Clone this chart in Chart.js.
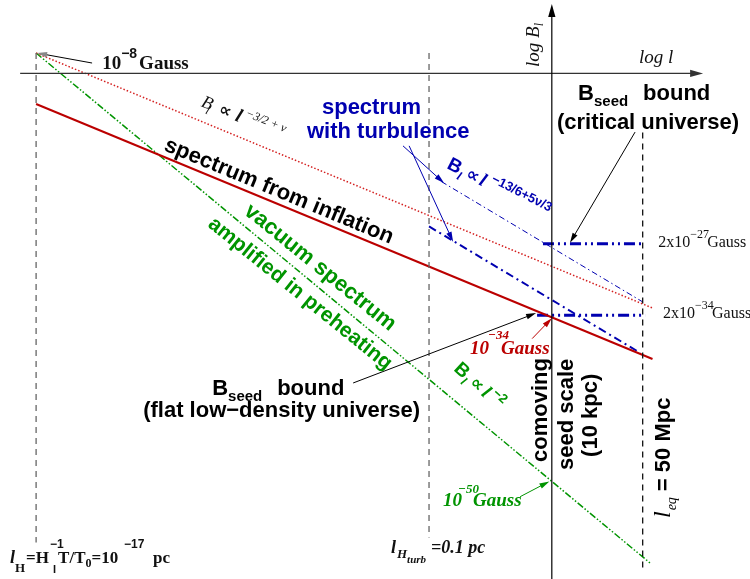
<!DOCTYPE html>
<html>
<head>
<meta charset="utf-8">
<script src="https://cdn.jsdelivr.net/npm/chart.js@4"></script>
<style>
  html, body { margin: 0; padding: 0; background: #fff; }
  #wrap { width: 750px; height: 579px; }
</style>
</head>
<body>
<div id="wrap"><canvas id="chart" width="750" height="579"></canvas></div>
<script>
// ===== Data (x = log10 l / pc, y = log10 B / Gauss) =====
const viewL = [-18.47, 12.07];
const viewB = [-59.57, -2.8];

// marked scales
const scaleL = [-17, -1, 4, 7.7];          // l_H, l_Hturb, seed scale (10 kpc), l_eq (50 Mpc)
const scaleLTop = [-8, -8, -59.6, -15.8];
const scaleLBottom = [-56, -55.5, -3.2, -58.5];

// spectra
const inflSlopeL = [-17, 8.1];   const inflSlopeB = [-8, -33];     // B ~ l^(-3/2+nu)
const inflationL = [-17, 8.1];   const inflationB = [-13, -38];    // spectrum from inflation
const vacuumL = [-17, 8];        const vacuumB = [-8, -58];        // vacuum, preheating, l^-2
const turbUpperL = [-0.5, 7.7];  const turbUpperB = [-20.6, -32.4];
const turbLowerL = [-1, 7.6];    const turbLowerB = [-25, -37.4];

// seed bounds
const critBoundL = [3.64, 7.7];  const critBoundB = [-26.7, -26.7]; // 2x10^-27 G
const flatBoundL = [3.4, 7.8];   const flatBoundB = [-33.7, -33.7]; // 2x10^-34 G

const axisB = -10; // horizontal log l axis

const SANS = '"Liberation Sans", Arial, sans-serif';
const SERIF = '"Liberation Serif", "Times New Roman", serif';
const RED = '#bb0000', GREEN = '#009400', BLUE = '#0000b0';

const pts = (xs, ys) => xs.map((x, i) => ({ x: x, y: ys[i] }));
const line = (xs, ys, color, width, dash) => ({
    data: pts(xs, ys), showLine: true, pointRadius: 0, borderColor: color,
    borderWidth: width, borderDash: dash || [], fill: false, tension: 0
});

// guide dashed verticals
const guides = scaleL.map((l, i) => {
    if (i === 2) return null; // seed scale is the B axis
    return line([l, l], [scaleLTop[i], scaleLBottom[i]], i === 3 ? '#111' : '#666', 1.3, [6, 5]);
}).filter(Boolean);

const datasets = [
    ...guides,
    line(inflSlopeL, inflSlopeB, '#d42020', 1.5, [1.5, 2]),
    line(inflationL, inflationB, RED, 2, []),
    line(vacuumL, vacuumB, GREEN, 1.5, [7, 2, 1.5, 2, 1.5, 2]),
    line(turbUpperL, turbUpperB, BLUE, 1, [6, 3, 1.5, 3]),
    line(turbLowerL, turbLowerB, BLUE, 2, [8, 4, 2, 4]),
    line(critBoundL, critBoundB, BLUE, 3, [11, 4, 2, 4, 2, 4]),
    line(flatBoundL, flatBoundB, BLUE, 3, [11, 4, 2, 4, 2, 4])
];

// ===== Annotations =====
const arrows = [
    { from: [-17.65, axisB], to: [10.16, axisB], color: '#333', w: 1.2, head: 13 },
    { from: [4, -59.6], to: [4, -3.2], color: '#000', w: 1.2, head: 13 },
    { from: [-14.72, -8.98], to: [-16.96, -8], color: '#000', w: 1, head: 10, headColor: '#888' },
    { from: [-2.06, -17.1], to: [-0.39, -20.75], color: BLUE, w: 1, head: 10 },
    { from: [-1.81, -17.1], to: [-0.02, -26.5], color: BLUE, w: 1, head: 10 },
    { from: [7.39, -15.75], to: [4.74, -26.6], color: '#000', w: 1, head: 10 },
    { from: [-4.09, -40.35], to: [3.36, -33.5], color: '#000', w: 1, head: 10 },
    { from: [3.2, -36.0], to: [4, -34], color: RED, w: 1, head: 10 },
    { from: [2.71, -51.5], to: [3.9, -50], color: GREEN, w: 1, head: 10 }
];

const b = (px) => `bold ${px}px ${SANS}`;
const labels = [
    { at: [-14.31, -9.57], rot: 0, color: '#111', segs: [
        { t: '10', f: `bold 19px ${SERIF}` }, { t: '−8', f: b(14), dy: -11, gap: 2 }, { t: 'Gauss', f: `bold 19px ${SERIF}` }] },
    { at: [-10.32, -13.2], rot: 22.4, color: '#111', segs: [
        { t: 'B', f: `italic 18px ${SERIF}` }, { t: 'l', f: `italic 12px ${SERIF}`, dy: 5, x: 7 }, { t: ' ∝ ', f: `bold 17px "DejaVu Sans", ${SANS}`, x: 13 },
        { t: 'l', f: `italic bold 19px ${SERIF}` }, { t: ' −3/2 + ν', f: `italic 12px ${SERIF}`, dy: -8 }] },
    { at: [-11.83, -17.5], rot: 22.5, color: '#000', segs: [{ t: 'spectrum from inflation', f: b(22) }] },
    { at: [-8.57, -23.7], rot: 39, color: GREEN, segs: [{ t: 'vacuum spectrum', f: b(22) }] },
    { at: [-10.04, -24.96], rot: 39, color: GREEN, segs: [{ t: 'amplified in preheating', f: b(21) }] },
    { at: [-5.36, -13.98], rot: 0, color: BLUE, segs: [{ t: 'spectrum', f: b(22) }] },
    { at: [-5.97, -16.33], rot: 0, color: BLUE, segs: [{ t: 'with turbulence', f: b(22) }] },
    { at: [-0.31, -19.27], rot: 27, color: BLUE, segs: [
        { t: 'B', f: b(19) }, { t: 'l', f: `italic bold 12px ${SERIF}`, dy: 5, gap: 4 }, { t: '∝', f: `bold 18px "DejaVu Sans", ${SANS}`, gap: 2 },
        { t: 'l', f: `italic bold 19px ${SERIF}`, gap: 5 }, { t: '−13/6+5ν/3', f: b(13), dy: -8 }] },
    { at: [5.07, -12.6], rot: 0, color: '#000', segs: [
        { t: 'B', f: b(22) }, { t: 'seed', f: b(15), dy: 6 }, { t: 'bound', f: b(22), x: 65 }] },
    { at: [4.21, -15.45], rot: 0, color: '#000', segs: [{ t: '(critical universe)', f: b(22) }] },
    { at: [-9.83, -41.53], rot: 0, color: '#000', segs: [
        { t: 'B', f: b(22) }, { t: 'seed', f: b(15), dy: 6 }, { t: 'bound', f: b(22), x: 65 }] },
    { at: [-12.64, -43.69], rot: 0, color: '#000', segs: [{ t: '(flat low−density universe)', f: b(22) }] },
    { at: [0.67, -37.51], rot: 0, color: RED, segs: [
        { t: '10', f: `italic bold 19px ${SERIF}` }, { t: '−34', f: `italic bold 13px ${SERIF}`, dy: -15, x: 18 },
        { t: 'Gauss', f: `italic bold 19px ${SERIF}`, x: 31 }] },
    { at: [-0.02, -39.08], rot: 42, color: GREEN, segs: [
        { t: 'B', f: b(19) }, { t: 'l', f: `italic bold 12px ${SERIF}`, dy: 5, gap: 4 }, { t: '∝', f: `bold 18px "DejaVu Sans", ${SANS}`, gap: 3 },
        { t: 'l', f: `italic bold 19px ${SERIF}`, gap: 3 }, { t: '−2', f: b(13), dy: -8 }] },
    { at: [3.81, -48.1], rot: -90, color: '#000', segs: [{ t: 'comoving', f: b(22) }] },
    { at: [4.86, -48.88], rot: -90, color: '#000', segs: [{ t: 'seed scale', f: b(22) }] },
    { at: [5.84, -47.6], rot: -90, color: '#000', segs: [{ t: '(10 kpc)', f: b(22) }] },
    { at: [8.81, -53.59], rot: -90, color: '#000', segs: [
        { t: 'l', f: `italic 24px ${SERIF}`, gap: 1 }, { t: 'eq', f: `italic 14px ${SERIF}`, dy: 6, gap: 6 },
        { t: '= 50 Mpc', f: b(22) }] },
    { at: [-0.43, -52.41], rot: 0, color: GREEN, segs: [
        { t: '10', f: `italic bold 19px ${SERIF}` }, { t: '−50', f: `italic bold 13px ${SERIF}`, dy: -13, x: 15 },
        { t: 'Gauss', f: `italic bold 19px ${SERIF}`, x: 30 }] },
    { at: [8.33, -27.02], rot: 0, color: '#111', segs: [
        { t: '2x10', f: `16px ${SERIF}` }, { t: '−27', f: `12px ${SERIF}`, dy: -9 }, { t: 'Gauss', f: `16px ${SERIF}`, x: 49 }] },
    { at: [8.53, -33.98], rot: 0, color: '#111', segs: [
        { t: '2x10', f: `16px ${SERIF}` }, { t: '−34', f: `12px ${SERIF}`, dy: -9 }, { t: 'Gauss', f: `16px ${SERIF}`, x: 49 }] },
    { at: [3.48, -9.37], rot: -90, color: '#111', segs: [
        { t: 'log B', f: `italic 19px ${SERIF}` }, { t: 'l', f: `italic 12px ${SERIF}`, dy: 4 }] },
    { at: [7.55, -8.98], rot: 0, color: '#111', segs: [{ t: 'log l', f: `italic 19px ${SERIF}` }] },
    { at: [-18.06, -58.0], rot: 0, color: '#111', segs: [
        { t: 'l', f: `italic bold 18px ${SERIF}` }, { t: 'H', f: `bold 13px ${SERIF}`, dy: 9, x: 5 },
        { t: '=H', f: `bold 17px ${SERIF}`, x: 16 }, { t: '−1', f: b(12), dy: -15, x: 40 }, { t: 'I', f: b(11), dy: 10, x: 43 },
        { t: 'T/T', f: `bold 17px ${SERIF}`, x: 48 }, { t: '0', f: `bold 12px ${SERIF}`, dy: 4 },
        { t: '=10', f: `bold 17px ${SERIF}` }, { t: '−17', f: b(12), dy: -15, x: 114 }, { t: 'pc', f: `bold 17px ${SERIF}`, x: 143 }] },
    { at: [-2.55, -57.02], rot: 0, color: '#111', segs: [
        { t: 'l', f: `italic bold 18px ${SERIF}`, gap: 1 }, { t: 'H', f: `italic bold 13px ${SERIF}`, dy: 5 },
        { t: 'turb', f: `italic bold 11px ${SERIF}`, dy: 10 }, { t: '=0.1 pc', f: `italic bold 18px ${SERIF}`, x: 40 }] }
];

// ===== Plugin: arrows and labels =====
const annotate = {
    id: 'annotate',
    afterDatasetsDraw(chart) {
        const ctx = chart.ctx;
        const sx = chart.scales.x, sy = chart.scales.y;
        const P = (p) => [sx.getPixelForValue(p[0]), sy.getPixelForValue(p[1])];

        arrows.forEach(a => {
            const [x1, y1] = P(a.from), [x2, y2] = P(a.to);
            const ang = Math.atan2(y2 - y1, x2 - x1);
            const h = a.head, hw = h * 0.28;
            ctx.save();
            ctx.strokeStyle = a.color; ctx.lineWidth = a.w;
            ctx.beginPath(); ctx.moveTo(x1, y1);
            ctx.lineTo(x2 - Math.cos(ang) * h * 0.8, y2 - Math.sin(ang) * h * 0.8); ctx.stroke();
            ctx.translate(x2, y2); ctx.rotate(ang);
            ctx.fillStyle = a.headColor || a.color;
            ctx.beginPath(); ctx.moveTo(0, 0); ctx.lineTo(-h, -hw); ctx.lineTo(-h, hw); ctx.closePath(); ctx.fill();
            ctx.restore();
        });

        labels.forEach(lb => {
            const [x, y] = P(lb.at);
            ctx.save();
            ctx.translate(x, y); ctx.rotate(lb.rot * Math.PI / 180);
            ctx.fillStyle = lb.color; ctx.textBaseline = 'alphabetic'; ctx.textAlign = 'left';
            let cx = 0;
            lb.segs.forEach(s => {
                ctx.font = s.f;
                const px = s.x !== undefined ? s.x : cx;
                ctx.fillText(s.t, px, s.dy || 0);
                cx = px + ctx.measureText(s.t).width + (s.gap || 0);
            });
            ctx.restore();
        });
    }
};

new Chart(document.getElementById('chart'), {
    type: 'scatter',
    data: { datasets: datasets },
    options: {
        responsive: false, animation: false, devicePixelRatio: 1,
        layout: { padding: 0 },
        plugins: { legend: { display: false }, tooltip: { enabled: false } },
        scales: {
            x: { type: 'linear', display: false, min: viewL[0], max: viewL[1] },
            y: { type: 'linear', display: false, min: viewB[0], max: viewB[1] }
        }
    },
    plugins: [annotate]
});
</script>
</body>
</html>
